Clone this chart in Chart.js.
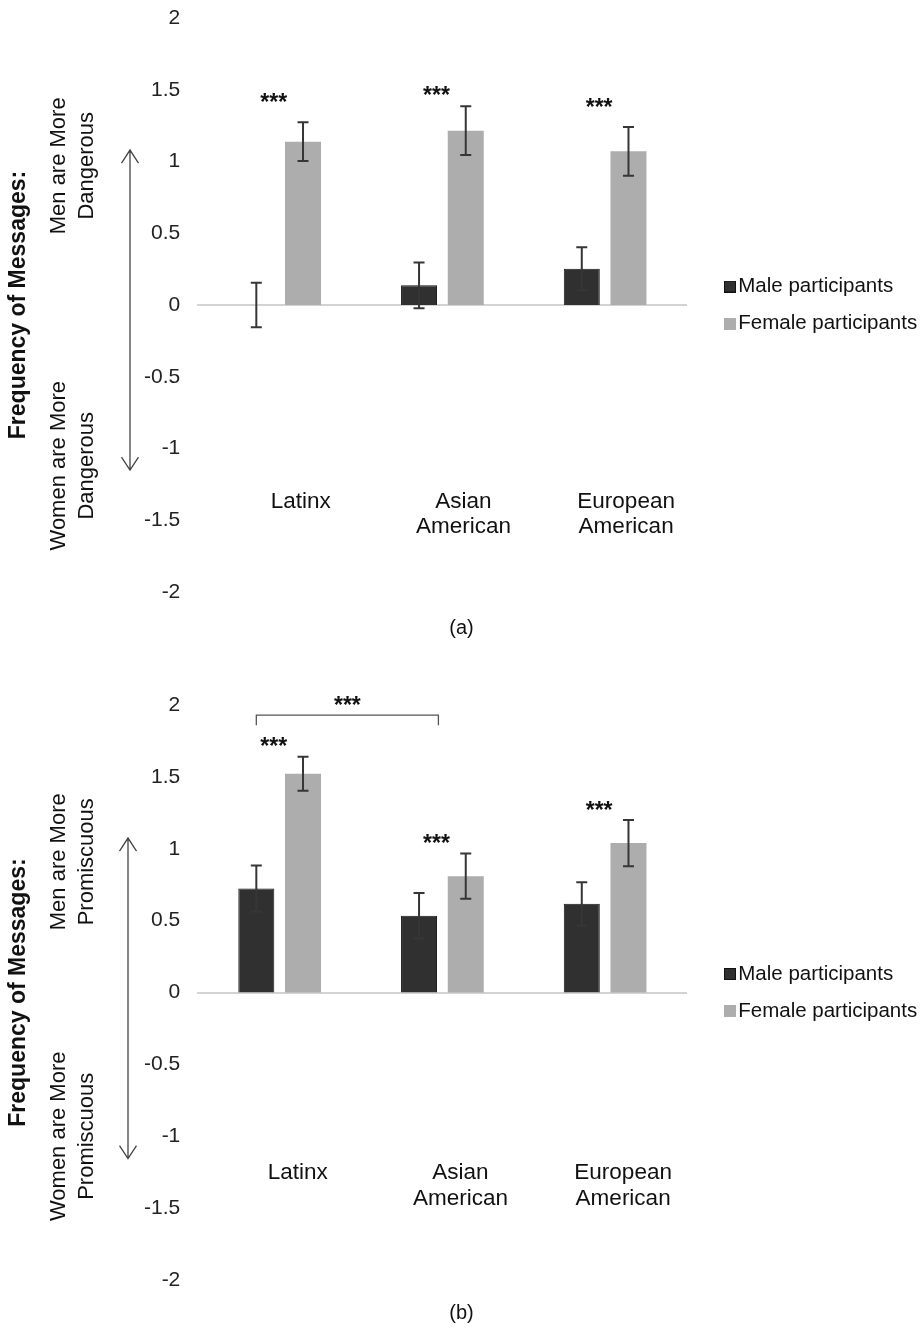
<!DOCTYPE html>
<html>
<head>
<meta charset="utf-8">
<script src="https://cdn.jsdelivr.net/npm/chart.js@4.4.1/dist/chart.umd.min.js"></script>
<style>
  body { margin: 0; background: #fff; }
  .panel { width: 923px; height: 665px; }
  canvas { display: block; }
</style>
</head>
<body>
<div class="panel"><canvas id="chartA" width="923" height="665"></canvas></div>
<div class="panel"><canvas id="chartB" width="923" height="665"></canvas></div>
<script>
const FONT = "'Liberation Sans', Arial, sans-serif";

const groups = ['Latinx', ['Asian', 'American'], ['European', 'American']];
const seriesNames = ['Male participants', 'Female participants'];
const yTicks = [-2, -1.5, -1, -0.5, 0, 0.5, 1, 1.5, 2];
const yTickLabels = ['-2', '-1.5', '-1', '-0.5', '0', '0.5', '1', '1.5', '2'];

// (a) men / women are more dangerous
const maleDanger = [0, 0.137, 0.253];
const maleDangerErr = [0.155, 0.16, 0.15];
const femaleDanger = [1.138, 1.215, 1.071];
const femaleDangerErr = [0.135, 0.17, 0.17];
const starsDanger = [1.456, 1.505, 1.424];

// (b) men / women are more promiscuous
const malePromisc = [0.724, 0.534, 0.617];
const malePromiscErr = [0.16, 0.158, 0.151];
const femalePromisc = [1.522, 0.81, 1.04];
const femalePromiscErr = [0.118, 0.158, 0.161];
const starsPromisc = [1.754, 1.083, 1.31];

// little square for the legend, drawn at the right end of a wider image
function legendSwatch(fill, stroke) {
  const c = document.createElement('canvas');
  c.width = 41; c.height = 12;
  const g = c.getContext('2d');
  g.fillStyle = fill;
  g.fillRect(29, 0, 12, 12);
  if (stroke) {
    g.strokeStyle = stroke;
    g.lineWidth = 1;
    g.strokeRect(29.5, 0.5, 11, 11);
  }
  return c;
}
const swatches = [legendSwatch('#303030', '#111'), legendSwatch('#adadad')];

const errorBars = {
  id: 'errorBars',
  afterDatasetsDraw(chart) {
    const {ctx, scales: {y}} = chart;
    ctx.save();
    ctx.strokeStyle = '#363636';
    ctx.lineWidth = 2;
    chart.data.datasets.forEach((ds, i) => {
      chart.getDatasetMeta(i).data.forEach((bar, j) => {
        const top = y.getPixelForValue(ds.data[j] + ds.errors[j]);
        const bot = y.getPixelForValue(ds.data[j] - ds.errors[j]);
        ctx.beginPath();
        ctx.moveTo(bar.x, top); ctx.lineTo(bar.x, bot);
        ctx.moveTo(bar.x - 5.5, top); ctx.lineTo(bar.x + 5.5, top);
        ctx.moveTo(bar.x - 5.5, bot); ctx.lineTo(bar.x + 5.5, bot);
        ctx.stroke();
      });
    });
    ctx.restore();
  }
};

function rotatedBlock(ctx, lines, cx, cy, gap) {
  ctx.save();
  ctx.translate(cx, cy);
  ctx.rotate(-Math.PI / 2);
  lines.forEach((t, i) => {
    ctx.fillText(t, 0, (i - (lines.length - 1) / 2) * gap);
  });
  ctx.restore();
}

const notes = {
  id: 'notes',
  afterDraw(chart, args, opts) {
    const {ctx, scales: {x, y}} = chart;
    ctx.save();
    ctx.fillStyle = '#111';
    ctx.textAlign = 'center';
    ctx.font = 'bold 23px ' + FONT;
    opts.stars.forEach((v, i) => {
      ctx.fillText('***', x.getPixelForValue(i) - 6, y.getPixelForValue(v) + 14);
    });

    if (opts.bracket) {
      const b = opts.bracket;
      const x1 = chart.getDatasetMeta(0).data[b.from].x;
      const x2 = x.getPixelForValue(b.to) - 4;
      const yt = y.getPixelForValue(b.at);
      const yd = y.getPixelForValue(b.drop);
      ctx.strokeStyle = '#555';
      ctx.lineWidth = 1.3;
      ctx.beginPath();
      ctx.moveTo(x1, yd); ctx.lineTo(x1, yt); ctx.lineTo(x2, yt); ctx.lineTo(x2, yd);
      ctx.stroke();
      ctx.fillText('***', (x1 + x2) / 2, y.getPixelForValue(b.stars) + 14);
    }

    // direction labels and the double arrow left of the ticks
    ctx.font = '22px ' + FONT;
    ctx.textBaseline = 'middle';
    rotatedBlock(ctx, opts.upper, 73, y.getPixelForValue(opts.upperAt), 28.5);
    rotatedBlock(ctx, opts.lower, 73, y.getPixelForValue(opts.lowerAt), 28.5);

    const ax = opts.arrowX;
    const a1 = y.getPixelForValue(opts.arrow[0]);
    const a2 = y.getPixelForValue(opts.arrow[1]);
    ctx.strokeStyle = '#444';
    ctx.lineWidth = 1.3;
    ctx.beginPath();
    ctx.moveTo(ax, a1); ctx.lineTo(ax, a2);
    ctx.moveTo(ax - 8.5, a1 + 13); ctx.lineTo(ax, a1); ctx.lineTo(ax + 8.5, a1 + 13);
    ctx.moveTo(ax - 8.5, a2 - 13); ctx.lineTo(ax, a2); ctx.lineTo(ax + 8.5, a2 - 13);
    ctx.stroke();
    ctx.restore();
  }
};

function buildChart(id, male, maleErr, female, femaleErr, noteOpts, padTop, labelPad, labelShift, caption, captionPad) {
  new Chart(document.getElementById(id), {
    type: 'bar',
    data: {
      labels: groups,
      datasets: [
        { label: seriesNames[0], data: male, errors: maleErr,
          backgroundColor: '#303030', borderColor: '#151515', borderWidth: 1 },
        { label: seriesNames[1], data: female, errors: femaleErr,
          backgroundColor: '#adadad', borderWidth: 0 }
      ]
    },
    options: {
      responsive: false,
      animation: false,
      categoryPercentage: 0.574,
      barPercentage: 0.771,
      layout: { padding: { top: padTop, right: 0, bottom: 0, left: 0 } },
      scales: {
        x: {
          position: { y: 0 },
          grid: { display: true, color: 'transparent', drawTicks: false },
          border: { display: true, color: '#d3d3d3', width: 2 },
          ticks: {
            padding: labelPad, labelOffset: labelShift, maxRotation: 0, autoSkip: false,
            color: '#111', font: { family: FONT, size: 22.5, lineHeight: 1.12 }
          }
        },
        y: {
          min: -2, max: 2,
          afterBuildTicks: s => { s.ticks = yTicks.map(v => ({ value: v })); },
          afterFit: s => { s.width = 198.3; s.paddingTop = 0; s.paddingBottom = 0; },
          grid: { display: false, drawTicks: false },
          border: { display: false },
          ticks: {
            padding: 18, color: '#222', font: { family: FONT, size: 21 },
            callback: v => yTickLabels[yTicks.indexOf(v)]
          },
          title: {
            display: true, text: 'Frequency of Messages:', color: '#111',
            font: { family: FONT, size: 23, weight: 'bold' },
            padding: { top: 5, bottom: 0 }
          }
        }
      },
      plugins: {
        legend: {
          position: 'right',
          fullSize: false,
          maxWidth: 236.5,
          labels: {
            color: '#111',
            font: { family: FONT, size: 20.5 },
            padding: 16.5,
            usePointStyle: true,
            pointStyleWidth: 25,
            generateLabels: chart => Chart.defaults.plugins.legend.labels.generateLabels(chart)
              .map((item, i) => Object.assign(item, { pointStyle: swatches[i] }))
          }
        },
        title: {
          display: true, position: 'bottom', text: caption, color: '#111',
          font: { family: FONT, size: 20, weight: 'normal' },
          padding: captionPad
        },
        tooltip: { enabled: false },
        notes: noteOpts
      }
    },
    plugins: [errorBars, notes]
  });
}

buildChart('chartA', maleDanger, maleDangerErr, femaleDanger, femaleDangerErr, {
  stars: starsDanger,
  upper: ['Men are More', 'Dangerous'], upperAt: 0.97,
  lower: ['Women are More', 'Dangerous'], lowerAt: -1.12,
  arrow: [1.08, -1.15], arrowX: 130
}, 18, 184, 21, '(a)', { top: 24, bottom: 25 });

buildChart('chartB', malePromisc, malePromiscErr, femalePromisc, femalePromiscErr, {
  stars: starsPromisc,
  bracket: { from: 0, to: 1, at: 1.93, drop: 1.86, stars: 2.04 },
  upper: ['Men are More', 'Promiscuous'], upperAt: 0.91,
  lower: ['Women are More', 'Promiscuous'], lowerAt: -1.0,
  arrow: [1.075, -1.155], arrowX: 128
}, 40.1, 168, 18, '(b)', { top: 21, bottom: 5 });
</script>
</body>
</html>
